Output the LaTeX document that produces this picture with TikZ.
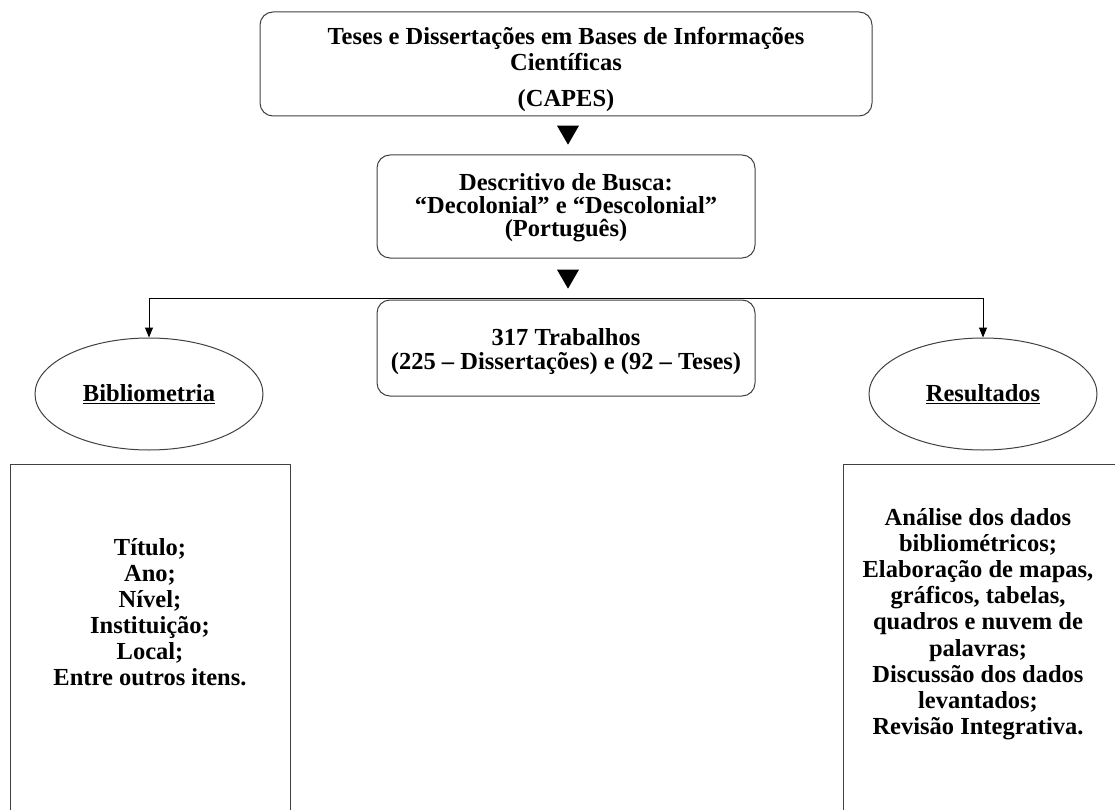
\documentclass[tikz,border=0pt]{standalone}
\usepackage{fontspec}
\setmainfont{Liberation Serif}
\usetikzlibrary{shapes.geometric,arrows.meta}
\tikzset{
  rbox/.style={draw=black!75, line width=1pt, rounded corners=13pt, inner sep=0pt},
  sbox/.style={draw=black!75, line width=1pt, inner sep=0pt},
  ell/.style={draw=black!75, line width=1pt, ellipse, inner sep=0pt, minimum width=228pt, minimum height=112pt},
  txt/.style={align=center, font=\bfseries\fontsize{24.5}{26}\selectfont, inner sep=0pt},
  tri/.style={fill=black, isosceles triangle, shape border rotate=270, isosceles triangle stretches, minimum width=22pt, minimum height=19pt, inner sep=0pt},
  conn/.style={draw=black, line width=1pt, -{Triangle[width=8pt,length=10pt]}}
}
\begin{document}
\begin{tikzpicture}[x=1pt,y=-1pt]
\useasboundingbox (0,0) rectangle (1115,810);
% top box
\node[rbox, minimum width=612pt, minimum height=104pt] (top) at (566,64) {};
\node[txt] (toptxt) at (566,69.5) {Teses e Dissertações em Bases de Informações\\Científicas\\[10pt](CAPES)};
\node[tri] (tri1) at (568,132) {};
% second box
\node[rbox, minimum width=378pt, minimum height=103pt] (busca) at (566,206.5) {};
\node[txt, font=\bfseries\fontsize{24.5}{23}\selectfont] (buscatxt) at (566,207.5) {Descritivo de Busca:\\“Decolonial” e “Descolonial”\\(Português)};
\node[tri] (tri2) at (568,276) {};
% middle box
\node[rbox, minimum width=378pt, minimum height=96pt] (trab) at (566,348) {};
\node[txt, font=\bfseries\fontsize{24.5}{24}\selectfont] (trabtxt) at (566,352) {317 Trabalhos\\(225 – Dissertações) e (92 – Teses)};
% ellipses
\node[ell] (bib) at (149,394) {};
\node[txt] (bibtxt) at (149,394) {\underline{Bibliometria}};
\node[ell] (res) at (983,394) {};
\node[txt] (restxt) at (983,394) {\underline{Resultados}};
% connectors
\coordinate (split) at (566,298);
\draw[conn] (split) -| (bib.north);
\draw[conn] (split) -| (res.north);
% bottom boxes
\node[sbox, minimum width=280pt, minimum height=380pt] (lbox) at (150,654) {};
\node[txt] (ltxt) at (150,612) {Título;\\Ano;\\Nível;\\Instituição;\\Local;\\Entre outros itens.};
\node[sbox, minimum width=290pt, minimum height=380pt] (rbx) at (988,654) {};
\node[txt, font=\bfseries\fontsize{24.5}{26.2}\selectfont] (rtxt) at (978,624) {Análise dos dados\\bibliométricos;\\Elaboração de mapas,\\gráficos, tabelas,\\quadros e nuvem de\\palavras;\\Discussão dos dados\\levantados;\\Revisão Integrativa.};
\end{tikzpicture}
\end{document}
